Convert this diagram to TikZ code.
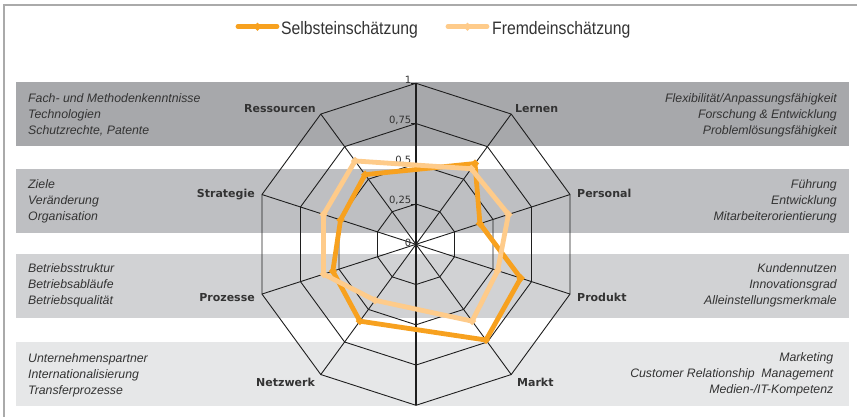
\documentclass[tikz,border=0pt]{standalone}
\usepackage{fontspec}
\setmainfont{Liberation Sans}
\newfontfamily\legfont[FakeStretch=0.875]{Liberation Sans}
\newfontfamily\catfont{DejaVu Sans}
\usetikzlibrary{shapes.geometric}
\definecolor{selb}{HTML}{F7A11F}
\definecolor{fremd}{HTML}{FECB8A}
\definecolor{bandA}{HTML}{A7A8AB}
\definecolor{bandB}{HTML}{BEBFC2}
\definecolor{bandC}{HTML}{D1D2D4}
\definecolor{bandD}{HTML}{E6E7E8}
\definecolor{frameg}{HTML}{AAAAAA}
\definecolor{txt}{HTML}{333333}
\definecolor{gridc}{HTML}{1E1E1E}
\begin{document}
\begin{tikzpicture}[x=1pt,y=-1pt,
  desc/.style={font=\fontsize{12.3}{14}\selectfont\itshape, text=txt, inner sep=0pt},
  cat/.style={font=\catfont\bfseries\fontsize{11}{13}\selectfont, text=txt, inner sep=0pt},
  ticklab/.style={font=\catfont\fontsize{10}{12}\selectfont, text=txt, inner sep=0pt, anchor=east},
  leg/.style={font=\legfont\fontsize{18}{20}\selectfont, text=txt, inner sep=0pt, anchor=base west},
  gridline/.style={draw=gridc, line width=0.9pt},
  series/.style={line width=4.8pt, line join=round, line cap=round},
  mk/.style={diamond, inner sep=0pt, minimum width=8.5pt, minimum height=8.5pt},
]
\useasboundingbox (0,0) rectangle (857,417);
\fill[white] (0,0) rectangle (857,417);
% frame
\draw[frameg, line width=1.6pt] (4,417) -- (4,5) -- (857,5);
% bands
\fill[bandA] (16,82) rectangle (849,146);
\fill[bandB] (16,169) rectangle (849,233);
\fill[bandC] (16,254) rectangle (849,318);
\fill[bandD] (16,342) rectangle (849,406);

% legend
\coordinate (la1) at (238,26.7);
\coordinate (la2) at (277,26.7);
\coordinate (lb1) at (448,26.7);
\coordinate (lb2) at (487,26.7);
\draw[selb, line width=4.8pt, line cap=round] (la1) -- (la2);
\node[mk, fill=selb] (lam) at (257.5,26.7) {};
\node[leg] (legA) at (281,34.3) {Selbsteinschätzung};
\draw[fremd, line width=4.8pt, line cap=round] (lb1) -- (lb2);
\node[mk, fill=fremd] (lbm) at (467.5,26.7) {};
\node[leg] (legB) at (492,34.3) {Fremdeinschätzung};

% radar
\begin{scope}[shift={(416pt,-244.3pt)}, x=1.006pt, y=1pt]
  \coordinate (C) at (0,0);
  \foreach \a in {90,54,18,-18,-54,-90,-126,-162,162,126}
    \draw[gridline] (C) -- (\a:161);
  \foreach \r in {0.25,0.5,0.75,1}
    \draw[gridline] (90:{161*\r}) \foreach \a in {54,18,...,-234} { -- (\a:{161*\r}) } -- cycle;
  \draw[gridc, line width=1.9pt] (90:161) -- (-90:161);
  \foreach \r/\lab [count=\i] in {0.25/{0,25},0.5/{0,5},0.75/{0,75},1/1} {
    \draw[gridline] (-4.7,{161*\r}) -- (0,{161*\r});
    \node[ticklab] (tk\i) at (-4.5,{161*\r+3.5}) {\lab};
  }
  \node[ticklab] (tk0) at (-4.5,1.3) {0};
  % Selbsteinschaetzung
  \draw[selb, series] (54:{161*0.62}) -- (18:{161*0.415}) -- (-18:{161*0.68}) -- (-54:{161*0.735})
     -- (-126:{161*0.59}) -- (-162:{161*0.54}) -- (162:{161*0.49}) -- (126:{161*0.535}) -- cycle;
  \foreach \a/\v [count=\i] in {54/0.62,18/0.415,-18/0.68,-54/0.735,-126/0.59,-162/0.54,162/0.49,126/0.535}
    \node[mk, fill=selb] (s\i) at (\a:{161*\v}) {};
  % Fremdeinschaetzung
  \draw[fremd, series] (54:{161*0.58}) -- (18:{161*0.60}) -- (-18:{161*0.53}) -- (-54:{161*0.59})
     -- (-126:{161*0.43}) -- (-162:{161*0.60}) -- (162:{161*0.60}) -- (126:{161*0.64}) -- cycle;
  \foreach \a/\v [count=\i] in {54/0.58,18/0.60,-18/0.53,-54/0.59,-126/0.43,-162/0.60,162/0.60,126/0.64}
    \node[mk, fill=fremd] (f\i) at (\a:{161*\v}) {};
\end{scope}

% category labels
\node[cat, anchor=base east] (ressourcen) at (316,113) {Ressourcen};
\node[cat, anchor=base west] (lernen) at (515,113) {Lernen};
\node[cat, anchor=base east] (strategie) at (255,197) {Strategie};
\node[cat, anchor=base west] (personal) at (577,197) {Personal};
\node[cat, anchor=base east] (prozesse) at (255,301) {Prozesse};
\node[cat, anchor=base west] (produkt) at (577,301) {Produkt};
\node[cat, anchor=base west] (netzwerk) at (256,386) {Netzwerk};
\node[cat, anchor=base west] (markt) at (517,386) {Markt};

% descriptions left
\foreach \t [count=\i] in {Fach- und Methodenkenntnisse, Technologien, {Schutzrechte, Patente}}
  \node[desc, anchor=base west] (lA\i) at (28,{98+16*(\i-1)+4.4}) {\t};
\foreach \t [count=\i] in {Ziele, Veränderung, Organisation}
  \node[desc, anchor=base west] (lB\i) at (28,{184+16*(\i-1)+4.4}) {\t};
\foreach \t [count=\i] in {Betriebsstruktur, Betriebsabläufe, Betriebsqualität}
  \node[desc, anchor=base west] (lC\i) at (28,{268.5+16*(\i-1)+4.4}) {\t};
\foreach \t [count=\i] in {Unternehmenspartner, Internationalisierung, Transferprozesse}
  \node[desc, anchor=base west] (lD\i) at (28,{358.5+16*(\i-1)+4.4}) {\t};
% descriptions right
\foreach \t [count=\i] in {Flexibilität/Anpassungsfähigkeit, Forschung \& Entwicklung, Problemlösungsfähigkeit}
  \node[desc, anchor=base east] (rA\i) at (837,{98+16*(\i-1)+4.4}) {\t};
\foreach \t [count=\i] in {Führung, Entwicklung, Mitarbeiterorientierung}
  \node[desc, anchor=base east] (rB\i) at (837,{184+16*(\i-1)+4.4}) {\t};
\foreach \t [count=\i] in {Kundennutzen, Innovationsgrad, Alleinstellungsmerkmale}
  \node[desc, anchor=base east] (rC\i) at (837,{268.5+16*(\i-1)+4.4}) {\t};
\foreach \t [count=\i] in {Marketing, {Customer Relationship\hspace{3.4pt} Management}, Medien-/IT-Kompetenz}
  \node[desc, anchor=base east] (rD\i) at (833.5,{357.5+16*(\i-1)+4.4}) {\t};
\end{tikzpicture}
\end{document}
